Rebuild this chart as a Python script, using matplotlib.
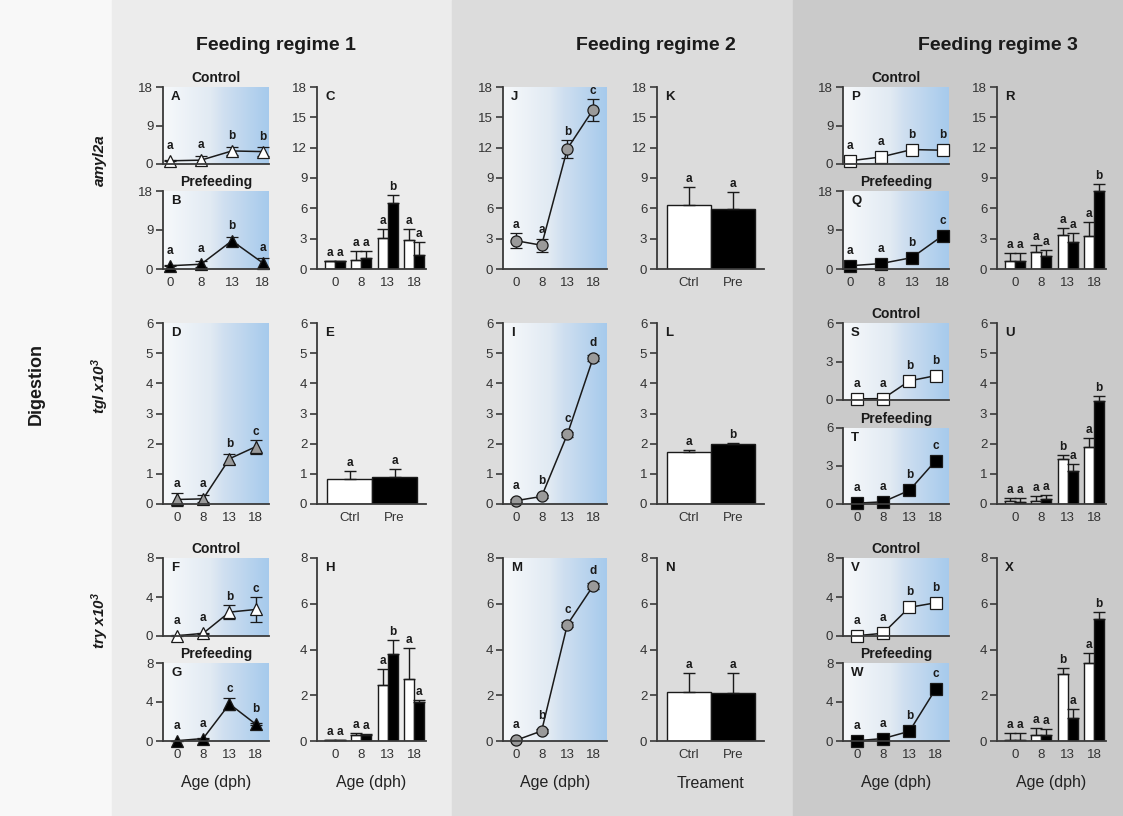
import numpy as np
import matplotlib
matplotlib.use("Agg")
import matplotlib.pyplot as plt
from matplotlib.colors import LinearSegmentedColormap
from matplotlib.patches import Rectangle

plt.rcParams['font.family'] = ['Liberation Sans', 'DejaVu Sans']
plt.rcParams['mathtext.default'] = 'regular'

# ---------------------------------------------------------------- data
ages = ["0", "8", "13", "18"]
treatments = ["Ctrl", "Pre"]

# Feeding regime 1
amy_r1_ctrl = [0.75, 0.9, 3.05, 2.9]
amy_r1_ctrl_sd = [0.08, 0.9, 0.95, 1.05]
amy_r1_pre = [0.75, 1.1, 6.5, 1.4]
amy_r1_pre_sd = [0.08, 0.7, 0.8, 1.25]
amy_r1_ctrl_sig = ["a", "a", "b", "b"]
amy_r1_pre_sig = ["a", "a", "b", "a"]
amy_r1_bar_ctrl_sig = ["a", "a", "a", "a"]
amy_r1_bar_pre_sig = ["a", "a", "b", "a"]

tgl_r1 = [0.15, 0.17, 1.5, 1.9]
tgl_r1_sd = [0.23, 0.12, 0.17, 0.23]
tgl_r1_sig = ["a", "a", "b", "c"]
tgl_r1_trt = [0.84, 0.91]
tgl_r1_trt_sd = [0.26, 0.26]
tgl_r1_trt_sig = ["a", "a"]

try_r1_ctrl = [0.03, 0.27, 2.45, 2.72]
try_r1_ctrl_sd = [0.03, 0.07, 0.7, 1.33]
try_r1_pre = [0.03, 0.25, 3.8, 1.72]
try_r1_pre_sd = [0.02, 0.05, 0.6, 0.08]
try_r1_ctrl_sig = ["a", "a", "b", "c"]
try_r1_pre_sig = ["a", "a", "c", "b"]
try_r1_bar_ctrl_sig = ["a", "a", "a", "a"]
try_r1_bar_pre_sig = ["a", "a", "b", "a"]

# Feeding regime 2
amy_r2 = [2.8, 2.35, 11.9, 15.75]
amy_r2_sd = [0.75, 0.65, 0.9, 1.1]
amy_r2_sig = ["a", "a", "b", "c"]
amy_r2_trt = [6.3, 5.95]
amy_r2_trt_sd = [1.85, 1.65]
amy_r2_trt_sig = ["a", "a"]

tgl_r2 = [0.11, 0.25, 2.31, 4.84]
tgl_r2_sd = [0.06, 0.05, 0.08, 0.1]
tgl_r2_sig = ["a", "b", "c", "d"]
tgl_r2_trt = [1.72, 1.98]
tgl_r2_trt_sd = [0.07, 0.04]
tgl_r2_trt_sig = ["a", "b"]

try_r2 = [0.03, 0.44, 5.09, 6.78]
try_r2_sd = [0.05, 0.08, 0.12, 0.12]
try_r2_sig = ["a", "b", "c", "d"]
try_r2_trt = [2.14, 2.1]
try_r2_trt_sd = [0.83, 0.87]
try_r2_trt_sig = ["a", "a"]

# Feeding regime 3
amy_r3_ctrl = [0.75, 1.64, 3.38, 3.22]
amy_r3_ctrl_sd = [0.83, 0.76, 0.72, 1.38]
amy_r3_pre = [0.75, 1.25, 2.63, 7.72]
amy_r3_pre_sd = [0.83, 0.59, 0.97, 0.66]
amy_r3_ctrl_line_sd = [0.2, 0.3, 0.4, 0.3]
amy_r3_pre_line_sd = [0.3, 0.3, 0.4, 0.5]
amy_r3_ctrl_sig = ["a", "a", "b", "b"]
amy_r3_pre_sig = ["a", "a", "b", "c"]
amy_r3_bar_ctrl_sig = ["a", "a", "a", "a"]
amy_r3_bar_pre_sig = ["a", "a", "a", "b"]

tgl_r3_ctrl = [0.09, 0.11, 1.49, 1.9]
tgl_r3_ctrl_sd = [0.11, 0.14, 0.14, 0.3]
tgl_r3_pre = [0.07, 0.17, 1.08, 3.43]
tgl_r3_pre_sd = [0.13, 0.13, 0.24, 0.16]
tgl_r3_ctrl_line_sd = [0.05, 0.05, 0.1, 0.12]
tgl_r3_pre_line_sd = [0.05, 0.08, 0.1, 0.15]
tgl_r3_ctrl_sig = ["a", "a", "b", "b"]
tgl_r3_pre_sig = ["a", "a", "b", "c"]
tgl_r3_bar_ctrl_sig = ["a", "a", "b", "a"]
tgl_r3_bar_pre_sig = ["a", "a", "a", "b"]

try_r3_ctrl = [0.03, 0.28, 2.94, 3.41]
try_r3_ctrl_sd = [0.33, 0.3, 0.26, 0.44]
try_r3_pre = [0.03, 0.25, 1.0, 5.35]
try_r3_pre_sd = [0.33, 0.29, 0.41, 0.29]
try_r3_ctrl_line_sd = [0.1, 0.1, 0.15, 0.35]
try_r3_pre_line_sd = [0.1, 0.1, 0.15, 0.3]
try_r3_ctrl_sig = ["a", "a", "b", "b"]
try_r3_pre_sig = ["a", "a", "b", "c"]
try_r3_bar_ctrl_sig = ["a", "a", "b", "a"]
try_r3_bar_pre_sig = ["a", "a", "a", "b"]

# ---------------------------------------------------------------- figure
W, H = 1123, 816
fig = plt.figure(figsize=(W / 100, H / 100), dpi=100)

INK = '#1a1a1a'
AXC = '#3a3a3a'


def band(x0, x1, color):
    fig.patches.append(Rectangle((x0 / W, 0), (x1 - x0) / W, 1,
                                 transform=fig.transFigure, color=color,
                                 zorder=-10))


band(0, 112, '#f8f8f8')
band(112, 452, '#ececec')
band(452, 793, '#dcdcdc')
band(793, W, '#cacaca')


def add_ax(x0, y0, x1, y1):
    return fig.add_axes([x0 / W, 1 - y1 / H, (x1 - x0) / W, (y1 - y0) / H])


grad_cmap = LinearSegmentedColormap.from_list(
    'stage', [(0, '#f7f9fb'), (0.45, '#e1eaf3'), (0.58, '#cfdff0'),
              (1, '#a6caec')])


def gradient(ax):
    ax.imshow(np.linspace(0, 1, 256)[None, :], cmap=grad_cmap, aspect='auto',
              extent=(0, 1, 0, 1), transform=ax.transAxes, zorder=0,
              interpolation='bilinear')


def style(ax, yticks, xlabels, xlim, show_x=True):
    for s in ['top', 'right']:
        ax.spines[s].set_visible(False)
    for s in ['left', 'bottom']:
        ax.spines[s].set_color(AXC)
        ax.spines[s].set_linewidth(1.3)
        ax.spines[s].set_zorder(5)
    ax.set_ylim(yticks[0], yticks[-1])
    ax.set_yticks(yticks)
    ax.set_yticklabels([str(t) for t in yticks])
    ax.tick_params(axis='y', length=5, width=1.2, color=AXC, direction='out',
                   labelsize=9.5, labelcolor='#333333', pad=2)
    ax.set_xlim(*xlim)
    ax.set_xticks(range(len(xlabels)))
    ax.set_xticklabels(xlabels if show_x else [])
    ax.tick_params(axis='x', length=0, labelsize=9.5, labelcolor='#333333',
                   pad=6)
    ax.patch.set_alpha(0)


def place_letters(ax, xs, tops, mids, labels, min_px=6):
    inv = ax.transData.inverted()
    for x, t, m, lab in zip(xs, tops, mids, labels):
        yt = ax.transData.transform((x, t))[1]
        ym = ax.transData.transform((x, m))[1] + min_px
        y = inv.transform((0, max(yt, ym) + 2))[1]
        ax.text(x, y, lab, ha='center', va='bottom', fontsize=8.5,
                fontweight='bold', color=INK, clip_on=False, zorder=6)


def panel_tag(ax, tag):
    ax.annotate(tag, xy=(0, 1), xycoords='axes fraction', xytext=(8, -4),
                textcoords='offset pixels', ha='left', va='top',
                fontsize=9.5, fontweight='bold', color=INK)


def subtitle(ax, text):
    ax.annotate(text, xy=(0.5, 1), xycoords='axes fraction', xytext=(0, 2),
                textcoords='offset pixels', ha='center', va='bottom',
                fontsize=10, fontweight='bold', color=INK)


def line_panel(box, vals, sds, sig, marker, face, tag, yticks, xlim,
               show_x=True, title=None):
    ax = add_ax(*box)
    gradient(ax)
    x = np.arange(len(vals))
    ax.errorbar(x, vals, yerr=sds, color=INK, lw=1.1, marker=marker, ms=8,
                mfc=face, mec=INK, mew=0.9, capsize=4, capthick=1.1,
                elinewidth=1, zorder=4, clip_on=False)
    style(ax, yticks, ages, xlim, show_x)
    tops = [v + s for v, s in zip(vals, sds)]
    place_letters(ax, x, tops, vals, sig, min_px=7)
    panel_tag(ax, tag)
    if title:
        subtitle(ax, title)
    return ax


def draw_bars(ax, pos, vals, sds, color, width):
    ax.bar(pos, vals, width, color=color, edgecolor=INK, lw=1.0, zorder=3,
           yerr=[np.zeros(len(vals)), sds],
           error_kw=dict(ecolor=INK, elinewidth=1.0, capsize=4, capthick=1.0,
                         zorder=3))


def age_bar_panel(box, ctrl, ctrl_sd, pre, pre_sd, sig_c, sig_p, tag, yticks):
    ax = add_ax(*box)
    x = np.arange(len(ctrl))
    w = 0.38
    draw_bars(ax, x - w / 2, ctrl, ctrl_sd, 'white', w)
    draw_bars(ax, x + w / 2, pre, pre_sd, 'black', w)
    style(ax, yticks, ages, (-0.68, 3.45))
    place_letters(ax, x - w / 2, [v + s for v, s in zip(ctrl, ctrl_sd)],
                  ctrl, sig_c, min_px=0)
    place_letters(ax, x + w / 2, [v + s for v, s in zip(pre, pre_sd)],
                  pre, sig_p, min_px=0)
    panel_tag(ax, tag)
    return ax


def trt_bar_panel(box, vals, sds, sig, tag, yticks):
    ax = add_ax(*box)
    x = np.arange(len(vals))
    for xi, v, s, c in zip(x, vals, sds, ['white', 'black']):
        draw_bars(ax, [xi], [v], [s], c, 1.0)
    style(ax, yticks, treatments, (-0.73, 1.7))
    place_letters(ax, x, [v + s for v, s in zip(vals, sds)], vals, sig,
                  min_px=0)
    panel_tag(ax, tag)
    return ax


# panel geometry (pixels)
line_x = {1: (163, 269), 2: (503, 607), 3: (843, 949)}
bar_x = {1: (317, 426), 2: (657, 764), 3: (997, 1106)}
full_y = [(87, 269), (323, 504), (558, 741)]
top_y = [(87, 164), (323, 400), (558, 636)]
bot_y = [(191, 269), (428, 504), (663, 741)]


def box(xr, yr):
    return (xr[0], yr[0], xr[1], yr[1])


amy_small = [0, 9, 18]
amy_full = [0, 3, 6, 9, 12, 15, 18]
tgl_small = [0, 3, 6]
tgl_full = [0, 1, 2, 3, 4, 5, 6]
try_small = [0, 4, 8]
try_full = [0, 2, 4, 6, 8]

XL_R1 = (-0.23, 3.2)
XL = (-0.52, 3.5)

# ---- Feeding regime 1
line_panel(box(line_x[1], top_y[0]), amy_r1_ctrl, amy_r1_ctrl_sd,
           amy_r1_ctrl_sig, '^', 'white', 'A', amy_small, XL_R1,
           show_x=False, title='Control')
line_panel(box(line_x[1], bot_y[0]), amy_r1_pre, amy_r1_pre_sd,
           amy_r1_pre_sig, '^', 'black', 'B', amy_small, XL_R1,
           title='Prefeeding')
age_bar_panel(box(bar_x[1], full_y[0]), amy_r1_ctrl, amy_r1_ctrl_sd,
              amy_r1_pre, amy_r1_pre_sd, amy_r1_bar_ctrl_sig,
              amy_r1_bar_pre_sig, 'C', amy_full)

line_panel(box(line_x[1], full_y[1]), tgl_r1, tgl_r1_sd, tgl_r1_sig, '^',
           '#9a9a9a', 'D', tgl_full, XL)
trt_bar_panel(box(bar_x[1], full_y[1]), tgl_r1_trt, tgl_r1_trt_sd,
              tgl_r1_trt_sig, 'E', tgl_full)

line_panel(box(line_x[1], top_y[2]), try_r1_ctrl, try_r1_ctrl_sd,
           try_r1_ctrl_sig, '^', 'white', 'F', try_small, XL, show_x=False,
           title='Control')
line_panel(box(line_x[1], bot_y[2]), try_r1_pre, try_r1_pre_sd,
           try_r1_pre_sig, '^', 'black', 'G', try_small, XL,
           title='Prefeeding')
age_bar_panel(box(bar_x[1], full_y[2]), try_r1_ctrl, try_r1_ctrl_sd,
              try_r1_pre, try_r1_pre_sd, try_r1_bar_ctrl_sig,
              try_r1_bar_pre_sig, 'H', try_full)

# ---- Feeding regime 2
line_panel(box(line_x[2], full_y[0]), amy_r2, amy_r2_sd, amy_r2_sig, 'o',
           '#9a9a9a', 'J', amy_full, (-0.5, 3.54))
trt_bar_panel(box(bar_x[2], full_y[0]), amy_r2_trt, amy_r2_trt_sd,
              amy_r2_trt_sig, 'K', amy_full)
line_panel(box(line_x[2], full_y[1]), tgl_r2, tgl_r2_sd, tgl_r2_sig, 'o',
           '#9a9a9a', 'I', tgl_full, (-0.5, 3.54))
trt_bar_panel(box(bar_x[2], full_y[1]), tgl_r2_trt, tgl_r2_trt_sd,
              tgl_r2_trt_sig, 'L', tgl_full)
line_panel(box(line_x[2], full_y[2]), try_r2, try_r2_sd, try_r2_sig, 'o',
           '#9a9a9a', 'M', try_full, (-0.5, 3.54))
trt_bar_panel(box(bar_x[2], full_y[2]), try_r2_trt, try_r2_trt_sd,
              try_r2_trt_sig, 'N', try_full)

# ---- Feeding regime 3
line_panel(box(line_x[3], top_y[0]), amy_r3_ctrl, amy_r3_ctrl_line_sd,
           amy_r3_ctrl_sig, 's', 'white', 'P', amy_small, XL_R1,
           show_x=False, title='Control')
line_panel(box(line_x[3], bot_y[0]), amy_r3_pre, amy_r3_pre_line_sd,
           amy_r3_pre_sig, 's', 'black', 'Q', amy_small, XL_R1,
           title='Prefeeding')
age_bar_panel(box(bar_x[3], full_y[0]), amy_r3_ctrl, amy_r3_ctrl_sd,
              amy_r3_pre, amy_r3_pre_sd, amy_r3_bar_ctrl_sig,
              amy_r3_bar_pre_sig, 'R', amy_full)

line_panel(box(line_x[3], top_y[1]), tgl_r3_ctrl, tgl_r3_ctrl_line_sd,
           tgl_r3_ctrl_sig, 's', 'white', 'S', tgl_small, XL, show_x=False,
           title='Control')
line_panel(box(line_x[3], bot_y[1]), tgl_r3_pre, tgl_r3_pre_line_sd,
           tgl_r3_pre_sig, 's', 'black', 'T', tgl_small, XL,
           title='Prefeeding')
age_bar_panel(box(bar_x[3], full_y[1]), tgl_r3_ctrl, tgl_r3_ctrl_sd,
              tgl_r3_pre, tgl_r3_pre_sd, tgl_r3_bar_ctrl_sig,
              tgl_r3_bar_pre_sig, 'U', tgl_full)

line_panel(box(line_x[3], top_y[2]), try_r3_ctrl, try_r3_ctrl_line_sd,
           try_r3_ctrl_sig, 's', 'white', 'V', try_small, XL, show_x=False,
           title='Control')
line_panel(box(line_x[3], bot_y[2]), try_r3_pre, try_r3_pre_line_sd,
           try_r3_pre_sig, 's', 'black', 'W', try_small, XL,
           title='Prefeeding')
age_bar_panel(box(bar_x[3], full_y[2]), try_r3_ctrl, try_r3_ctrl_sd,
              try_r3_pre, try_r3_pre_sd, try_r3_bar_ctrl_sig,
              try_r3_bar_pre_sig, 'X', try_full)

# ---------------------------------------------------------------- labels
HEAD = ['Liberation Sans', 'DejaVu Sans']


def ftext(x, y, s, **kw):
    fig.text(x / W, 1 - y / H, s, **kw)


for cx, name in [(276, 'Feeding regime 1'), (656, 'Feeding regime 2'),
                 (998, 'Feeding regime 3')]:
    ftext(cx, 46, name, ha='center', va='center', fontsize=14,
          fontweight='bold', color=INK, family=HEAD)

for xr in [line_x[1], bar_x[1], line_x[2], bar_x[3], line_x[3]]:
    ftext((xr[0] + xr[1]) / 2, 783, 'Age (dph)', ha='center', va='center',
          fontsize=11.5, color='#222222')
ftext((bar_x[2][0] + bar_x[2][1]) / 2, 783, 'Treament', ha='center',
      va='center', fontsize=11.5, color='#222222')

ftext(36, 384, 'Digestion', rotation=90, ha='center', va='center',
      fontsize=13, fontweight='bold', color=INK, family=HEAD)
for cy, name in [(160, 'amyl2a'), (386, 'tgl x10$^3$'), (620, 'try x10$^3$')]:
    ftext(100, cy, name, rotation=90, ha='center', va='center', fontsize=11,
          fontweight='bold', style='italic', color=INK, family=HEAD)

fig.savefig('out.png', dpi=100)
